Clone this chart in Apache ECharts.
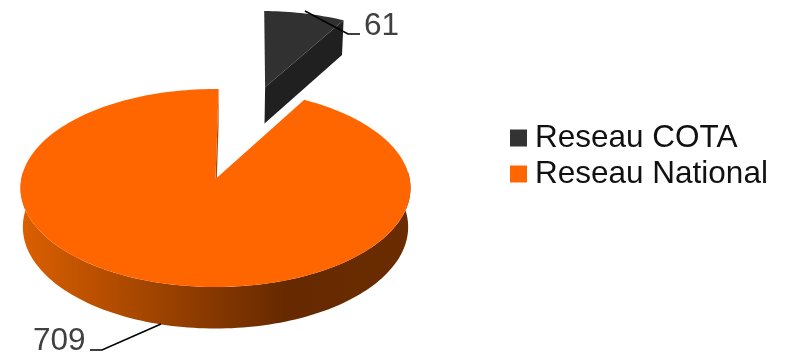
<!DOCTYPE html>
<html><head><meta charset="utf-8">
<style>html,body{margin:0;padding:0;background:#fff}#c{width:786px;height:356px}</style>
<script src="https://cdn.jsdelivr.net/npm/echarts@6/dist/echarts.min.js"></script>
</head><body><div id="c"></div>
<script>
const categories = ['Reseau COTA', 'Reseau National'];
const values = [61, 709];
const total = values[0] + values[1];
const chart = echarts.init(document.getElementById('c'));

// projection of the pie plane to the screen (perspective view of a disc)
const CX = 215.5, CY = 188, RX = 195, RY = 99, K = 0.09, START = 1, DEPTH = 39;
const rad = d => d * Math.PI / 180;
function project(u, v) {
  const w = 1 + K * v;
  const nu = u * Math.sqrt(1 - K * K) / w, nv = (v + K) / w;
  return { x: CX + RX * nu, y: CY - RY * nv, nv };
}
const lowerPt = p => [CX + (p.x - CX) * 0.988, p.y + DEPTH - 2.5 * p.nv];
const topPt = p => [p.x, p.y];

function arc(a0, a1, ox, oy) {
  const pts = [];
  const n = Math.max(2, Math.ceil(Math.abs(a1 - a0) / 1.5));
  for (let i = 0; i <= n; i++) {
    const a = rad(a0 + (a1 - a0) * i / n);
    pts.push(project(ox + Math.sin(a), oy + Math.cos(a)));
  }
  return pts;
}
const poly = (points, style, z2) => ({ type: 'polygon', shape: { points }, style, z2: z2 || 0, silent: true });
const leader = (points) => ({ type: 'polyline', shape: { points }, style: { stroke: '#000', lineWidth: 1.6, fill: null }, z2: 20, silent: true });
const label = (text, x, y) => ({ type: 'text', x, y, z2: 21, silent: true, style: { text, fill: '#404040', fontFamily: 'Liberation Sans', fontSize: 31.5, textAlign: 'left', textVerticalAlign: 'middle' } });

function renderCota(params, api) {
  const sweep = 360 * api.value(0) / total;
  const mid = rad(START + sweep / 2), d = 1.06;
  const ox = d * Math.sin(mid), oy = d * Math.cos(mid);
  const apex = project(ox, oy);
  const rim = arc(START, START + sweep, ox, oy);
  const end = rim[rim.length - 1];
  return { type: 'group', children: [
    poly([topPt(apex), topPt(end), lowerPt(end), lowerPt(apex)], { fill: '#202020' }, 1),
    poly([topPt(apex)].concat(rim.map(topPt)), { fill: '#313131' }, 2),
    leader([[305, 11], [348, 34], [360, 34]]),
    label(String(api.value(0)), 364, 26)
  ]};
}
function renderNational(params, api) {
  const sweep = 360 * values[0] / total;
  const a0 = START + sweep, a1 = a0 + 360 * api.value(0) / total;
  const apex = project(0, 0);
  const rim = arc(a0, a1, 0, 0);
  const front = arc(86, 274, 0, 0);
  const last = rim[rim.length - 1];
  const wall = front.map(topPt).concat(front.slice().reverse().map(lowerPt));
  const grad = new echarts.graphic.LinearGradient(21, 0, 410, 0, [
    { offset: 0, color: '#DB5F00' }, { offset: 0.68, color: '#662900' }, { offset: 1, color: '#6B2C00' }
  ], true);
  return { type: 'group', children: [
    poly(wall, { fill: grad }, 1),
    poly([topPt(last), topPt(apex), lowerPt(apex), lowerPt(last)], { fill: '#A84A00' }, 1),
    poly([topPt(apex)].concat(rim.map(topPt)), { fill: '#FF6600' }, 2),
    leader([[161, 324], [102, 350], [90, 350]]),
    label(String(api.value(0)), 33, 341)
  ]};
}
chart.setOption({
  animation: false,
  backgroundColor: '#fff',
  legend: {
    orient: 'vertical', left: 505, top: 115, icon: 'rect', itemWidth: 17, itemHeight: 17, itemGap: 0,
    selectedMode: false,
    textStyle: { fontFamily: 'Liberation Sans', fontSize: 31.5, color: '#111', padding: [0, 0, 0, 3], lineHeight: 36 },
    data: [
      { name: categories[0], itemStyle: { color: '#333333' } },
      { name: categories[1], itemStyle: { color: '#FF6600' } }
    ]
  },
  series: [
    { type: 'custom', name: categories[1], coordinateSystem: 'none', renderItem: renderNational, data: [[values[1]]], itemStyle: { color: '#FF6600' } },
    { type: 'custom', name: categories[0], coordinateSystem: 'none', renderItem: renderCota, data: [[values[0]]], itemStyle: { color: '#333333' } }
  ]
});
</script></body></html>
